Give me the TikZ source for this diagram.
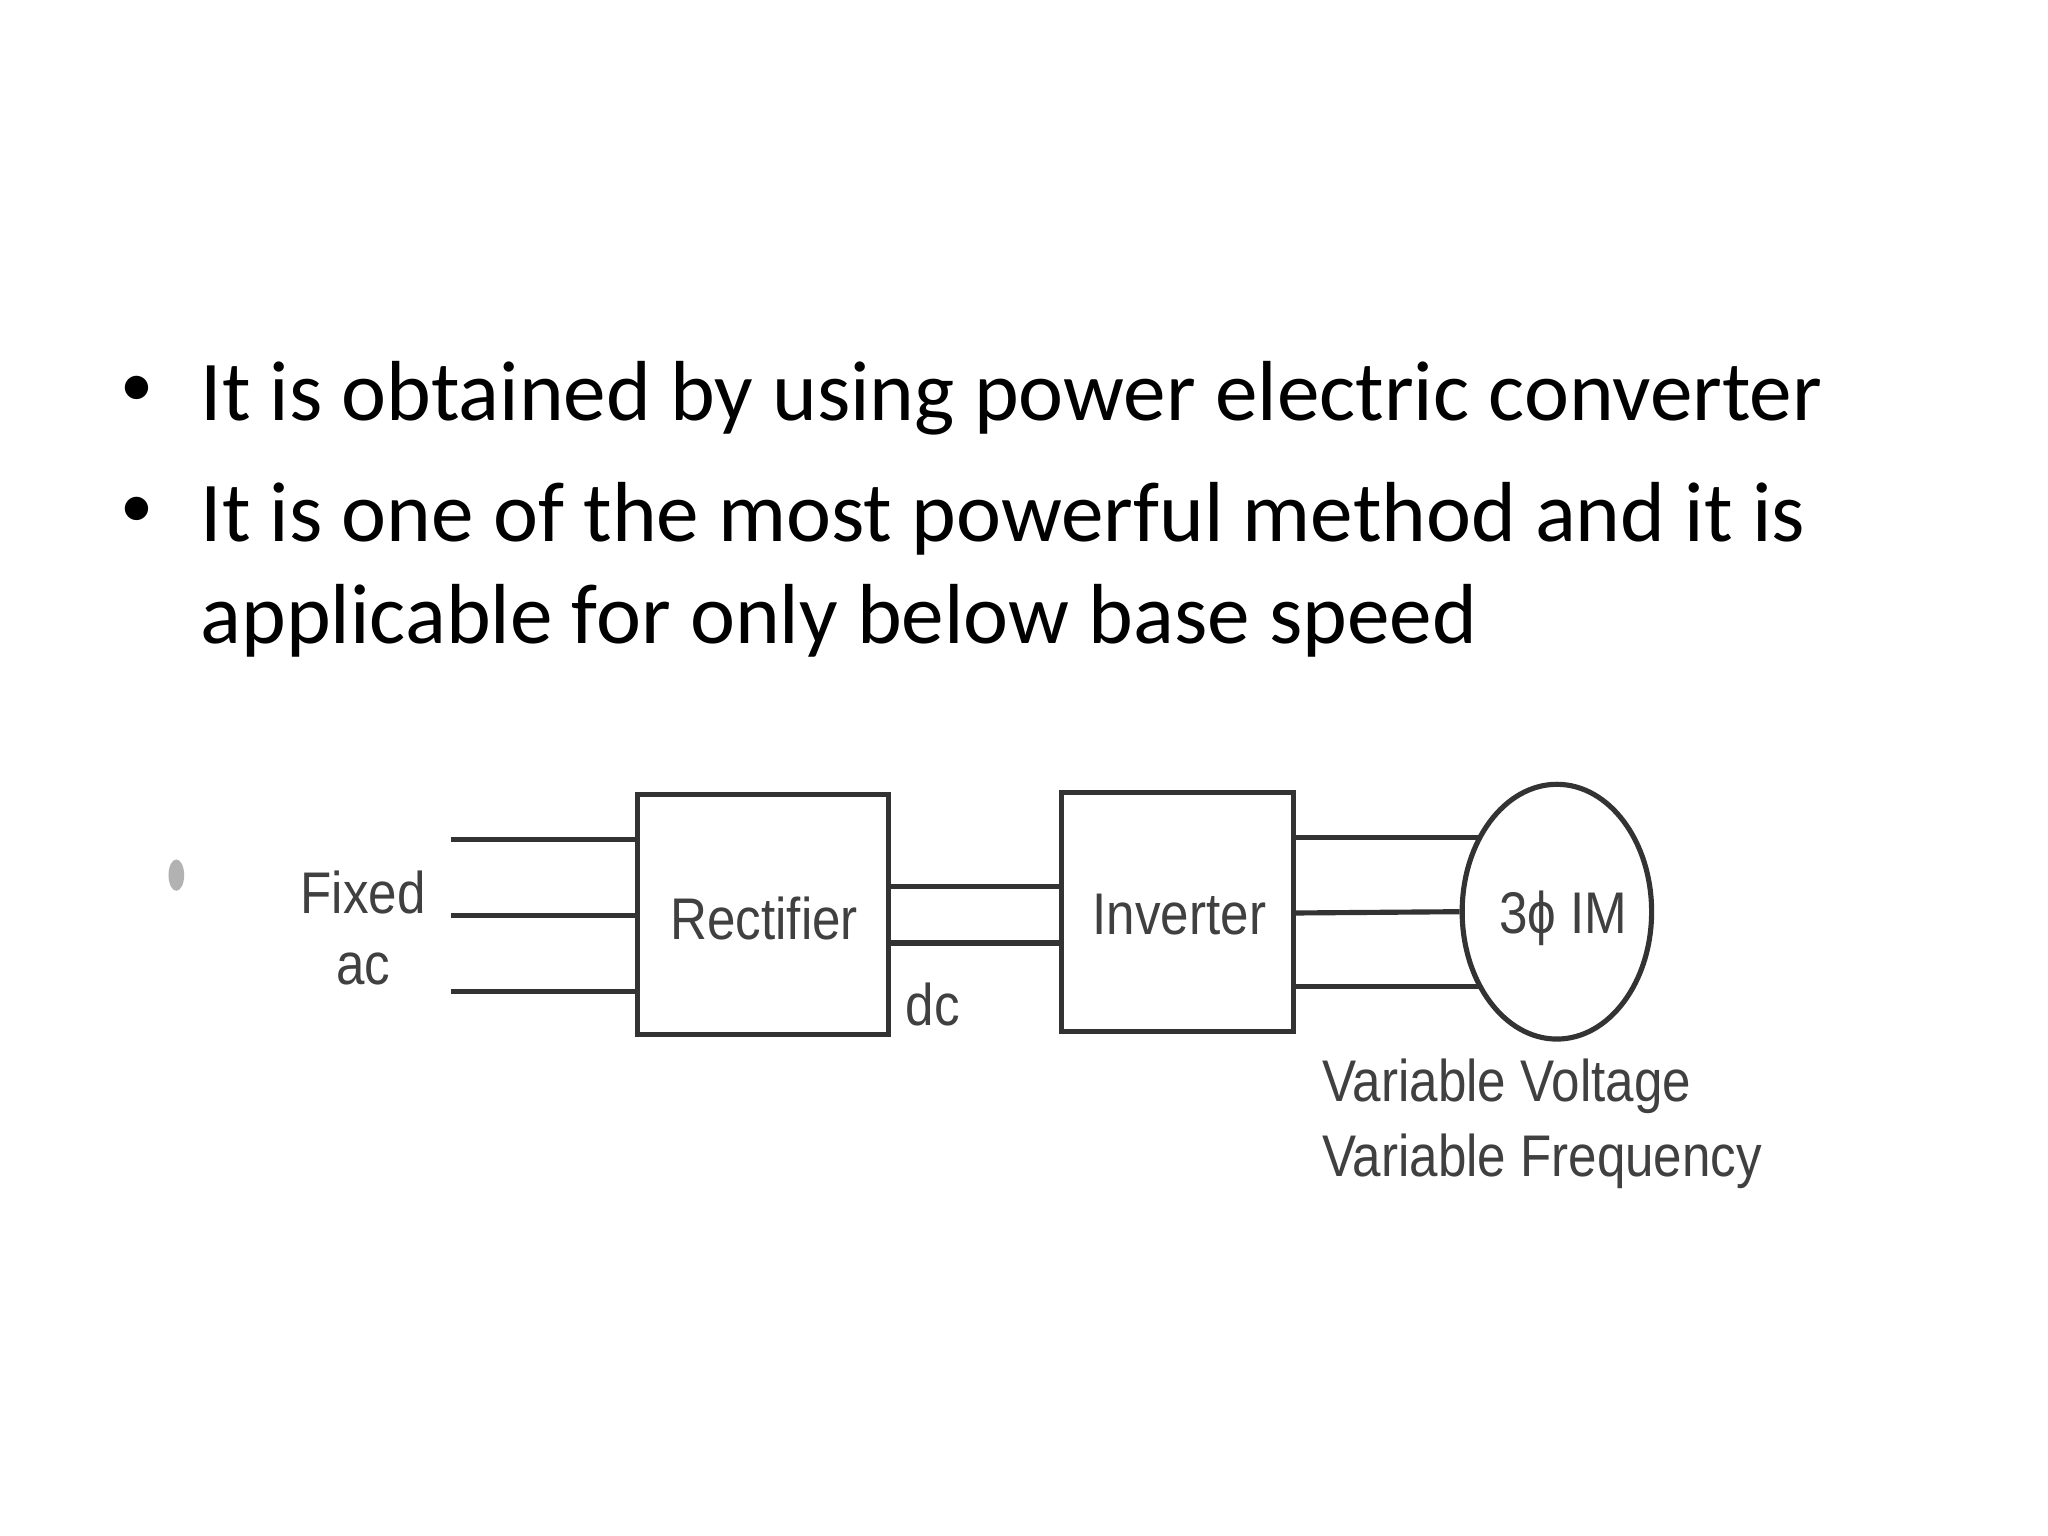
\documentclass[tikz,border=0pt]{standalone}
\usepackage{fontspec}
\usetikzlibrary{shapes.geometric}
\setmainfont{Carlito}
\newfontfamily\diafont{Liberation Sans}
\begin{document}
\begin{tikzpicture}[x=0.0125cm,y=-0.0125cm,
  bul/.style={anchor=west,inner sep=0pt,font=\fontsize{23.2}{28}\selectfont,text=black},
  dot/.style={inner sep=0pt,font=\fontsize{18}{20}\selectfont,text=black},
  lab/.style={inner sep=0pt,text=black!75,font=\diafont\fontsize{16}{19}\selectfont,xscale=0.87},
  wire/.style={line width=1.4pt,black!80},
  blk/.style={draw=black!80,line width=1.4pt,inner sep=0pt}]
\useasboundingbox (0,0) rectangle (1568,1176);
\node[dot] (b1) at (105,300) {\textbullet};
\node[bul] (t1) at (153,305) {It is obtained by using power electric converter};
\node[dot] (b2) at (105,392) {\textbullet};
\node[bul] (t2) at (153,397) {It is one of the most powerful method and it is};
\node[bul] (t3) at (153,475) {applicable for only below base speed};
\node[blk,minimum width=2.4cm,minimum height=2.3cm] (rec) at (584,700) {};
\node[blk,minimum width=2.2125cm,minimum height=2.2875cm] (inv) at (901.5,698.5) {};
\node[blk,ellipse,minimum width=1.8125cm,minimum height=2.4375cm] (im) at (1192,698) {};
\node[lab] at (585,703) {Rectifier};
\node[lab] at (903,700) {Inverter};
\node[lab] at (1197,703) {3ϕ IM};
\node[lab] at (278,683) {Fixed};
\node[lab] at (278,742) {ac};
\node[lab] at (714,769) {dc};
\node[lab,anchor=west] at (1012,832) {Variable Voltage};
\node[lab,anchor=west] at (1012,889) {Variable Frequency};
\foreach \y [count=\i] in {643,701,759}{
  \coordinate (in\i) at (345,\y);
  \draw[wire] (in\i) -- (in\i -| rec.west);}
\foreach \y [count=\i] in {679,722}
  \draw[wire] (rec.east |- 0,\y) -- (inv.west |- 0,\y);
\draw[wire] (inv.east |- 0,641) -- (1133,641);
\draw[wire] (inv.east |- 0,699) -- (im.west);
\draw[wire] (inv.east |- 0,755) -- (1133,755);
\fill[black!30] (135,670) ellipse (6 and 12);
\end{tikzpicture}
\end{document}
